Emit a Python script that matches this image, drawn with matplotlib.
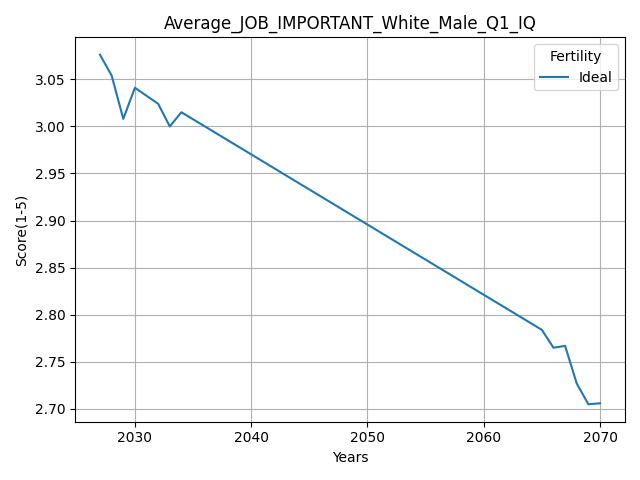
import matplotlib
matplotlib.use("Agg")
import matplotlib.pyplot as plt

# dados
anos = [2027, 2028, 2029, 2030, 2032, 2033, 2034, 2065, 2066, 2067, 2068, 2069, 2070]
ideal = [3.076, 3.054, 3.008, 3.041, 3.024, 3.000, 3.015, 2.784, 2.765, 2.767, 2.727, 2.705, 2.706]

fig, ax = plt.subplots(figsize=(6.4, 4.8), dpi=100)
ax.plot(anos, ideal, label="Ideal")
ax.set_title("Average_JOB_IMPORTANT_White_Male_Q1_IQ")
ax.set_xlabel("Years")
ax.set_ylabel("Score(1-5)")
ax.grid(True)
ax.legend(title="Fertility", loc="upper right")
plt.tight_layout()
plt.savefig("out.png")
